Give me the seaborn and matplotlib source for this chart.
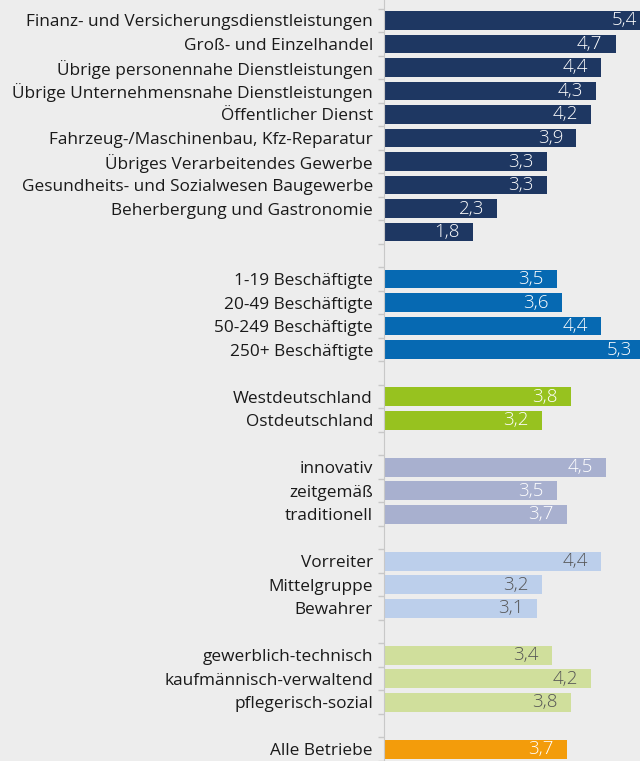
import numpy as np
import pandas as pd
import seaborn as sns
import matplotlib.pyplot as plt

# data, one list per group (top to bottom)
branche_labels = ['Finanz- und Versicherungsdienstleistungen', 'Groß- und Einzelhandel',
                  'Übrige personennahe Dienstleistungen', 'Übrige Unternehmensnahe Dienstleistungen',
                  'Öffentlicher Dienst', 'Fahrzeug-/Maschinenbau, Kfz-Reparatur',
                  'Übriges Verarbeitendes Gewerbe', 'Gesundheits- und Sozialwesen Baugewerbe',
                  'Beherbergung und Gastronomie', '']
branche_values = [5.4, 4.7, 4.4, 4.3, 4.2, 3.9, 3.3, 3.3, 2.3, 1.8]

groesse_labels = ['1-19 Beschäftigte', '20-49 Beschäftigte', '50-249 Beschäftigte', '250+ Beschäftigte']
groesse_values = [3.5, 3.6, 4.4, 5.3]

region_labels = ['Westdeutschland', 'Ostdeutschland']
region_values = [3.8, 3.2]

image_labels = ['innovativ', 'zeitgemäß', 'traditionell']
image_values = [4.5, 3.5, 3.7]

typ_labels = ['Vorreiter', 'Mittelgruppe', 'Bewahrer']
typ_values = [4.4, 3.2, 3.1]

beruf_labels = ['gewerblich-technisch', 'kaufmännisch-verwaltend', 'pflegerisch-sozial']
beruf_values = [3.4, 4.2, 3.8]

alle_labels = ['Alle Betriebe']
alle_values = [3.7]

groups = [
    ('branche', branche_labels, branche_values, '#1e3762', 'white'),
    ('groesse', groesse_labels, groesse_values, '#0669b2', 'white'),
    ('region', region_labels, region_values, '#97c21f', 'white'),
    ('image', image_labels, image_values, '#a8b0cf', 'white'),
    ('typ', typ_labels, typ_values, '#bccfeb', '#555555'),
    ('beruf', beruf_labels, beruf_values, '#d0df9c', '#555555'),
    ('alle', alle_labels, alle_values, '#f39c0b', 'white'),
]

rows = []
pos = 0
for name, labels, values, color, tcolor in groups:
    for lab, val in zip(labels, values):
        rows.append({'pos': pos, 'label': lab, 'value': val, 'group': name, 'tcolor': tcolor})
        pos += 1
    pos += 1  # empty row between groups
df = pd.DataFrame(rows)
palette = {g[0]: g[3] for g in groups}

bg = '#ededed'
fig = plt.figure(figsize=(6.4, 7.61), dpi=100, facecolor=bg)
ax = fig.add_axes([0.6, 0.0, 0.4, 1.0], facecolor=bg)

sns.barplot(data=df, x='value', y='pos', hue='group', palette=palette, orient='h',
            native_scale=True, dodge=False, width=0.8, legend=False, saturation=1,
            ax=ax, linewidth=0)

ax.set_xlim(0, 5.19)
ax.set_ylim(31.45, -0.87)

ax.set_yticks(df['pos'])
ax.set_yticklabels(df['label'], fontsize=12.4, color='#1a1a1a', family='Open Sans')
ax.set_yticks(np.arange(-0.5, 32, 1), minor=True)
ax.tick_params(axis='y', which='major', length=0, pad=8)
ax.tick_params(axis='y', which='minor', length=4, color='#c8c8c8', width=1)
ax.set_xticks([])
ax.set_xlabel('')
ax.set_ylabel('')
for s in ['top', 'right', 'bottom']:
    ax.spines[s].set_visible(False)
ax.spines['left'].set_color('#c8c8c8')

for _, r in df.iterrows():
    ax.text(r['value'] - 0.27, r['pos'], f"{r['value']:.1f}".replace('.', ','),
            ha='right', va='center', color=r['tcolor'], fontsize=13.5,
            family='Open Sans', fontweight='light', clip_on=False)

fig.savefig('out.png', dpi=100, facecolor=bg)
